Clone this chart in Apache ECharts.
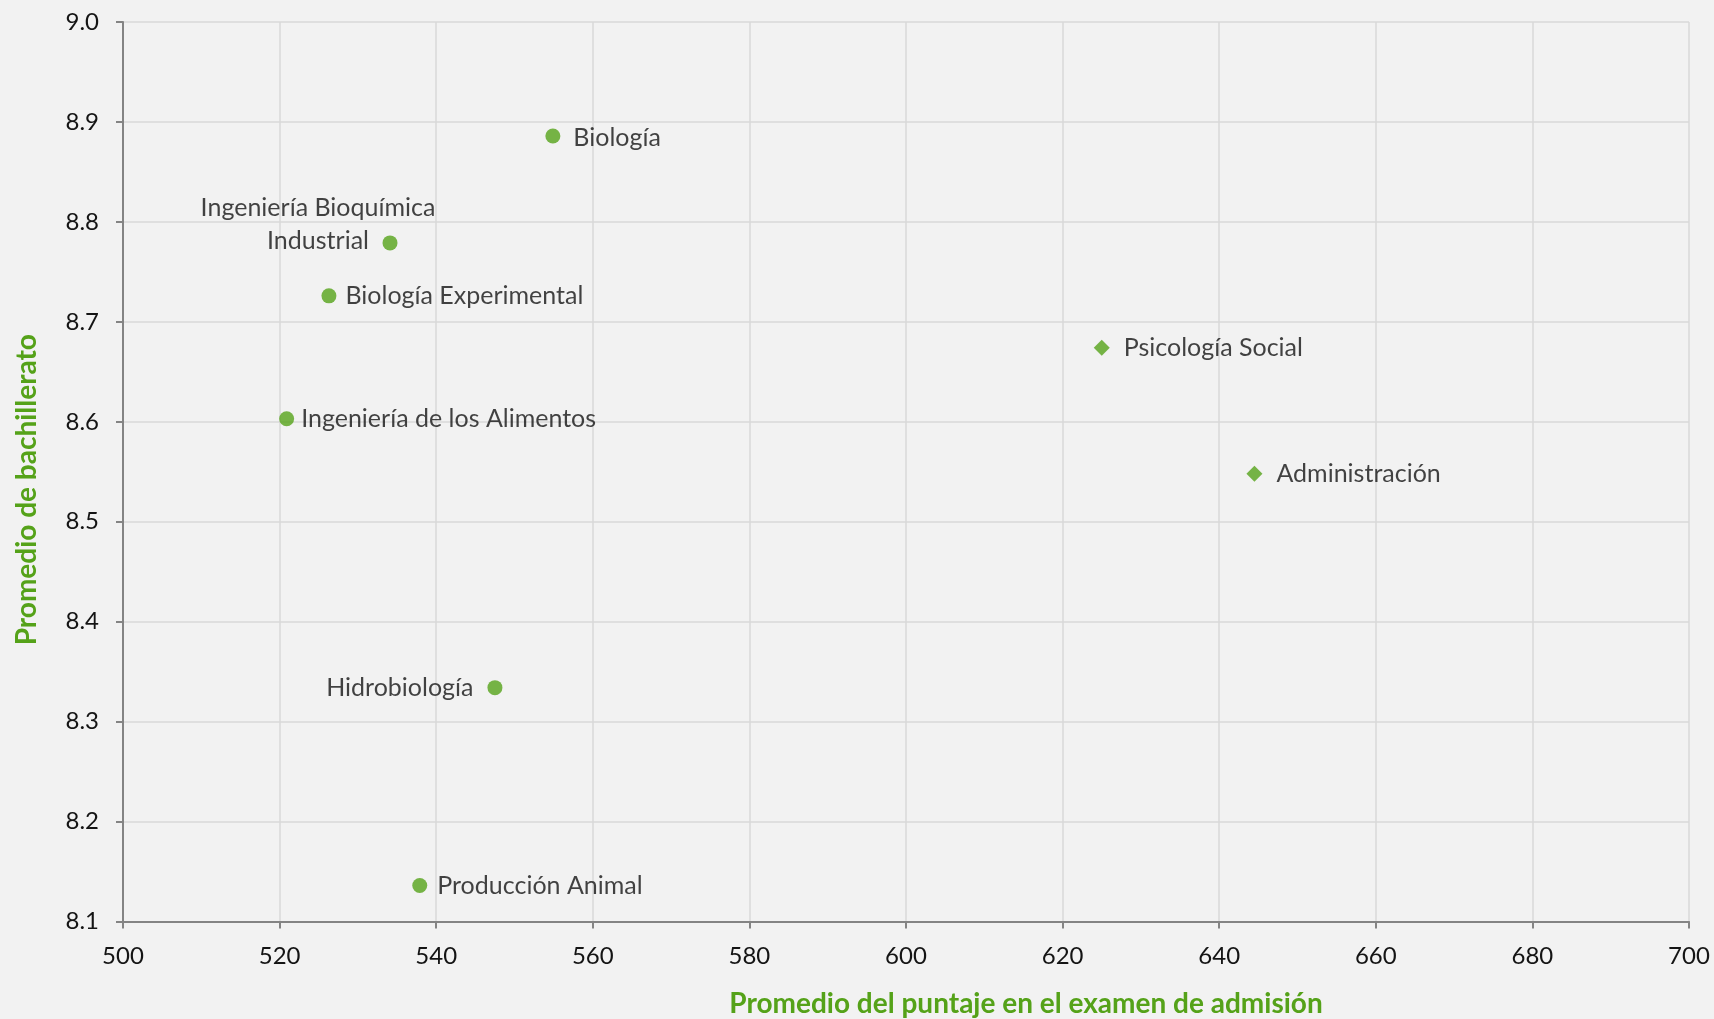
<!DOCTYPE html>
<html>
<head>
<meta charset="utf-8">
<script src="https://cdn.jsdelivr.net/npm/echarts@6/dist/echarts.min.js"></script>
<style>
html,body{margin:0;padding:0;background:#f2f2f2;}
#chart{width:1714px;height:1019px;}
</style>
</head>
<body>
<div id="chart"></div>
<script>
// ---- data ----
const circleNames = ['Biología', 'Ingeniería Bioquímica\nIndustrial', 'Biología Experimental', 'Ingeniería de los Alimentos', 'Hidrobiología', 'Producción Animal'];
const circleX = [554.9, 534.1, 526.3, 520.9, 547.5, 537.9];
const circleY = [8.886, 8.779, 8.726, 8.603, 8.334, 8.136];
const diamondNames = ['Psicología Social', 'Administración'];
const diamondX = [625.0, 644.5];
const diamondY = [8.674, 8.548];
const xAxisTitle = 'Promedio del puntaje en el examen de admisión';
const yAxisTitle = 'Promedio de bachillerato';

// ---- styling ----
const GREEN = '#55a219';
const FONT = 'Lato';
const labelStyle = {
  show: true, fontFamily: FONT, fontSize: 25, color: '#141414', formatter: p => p.name
};
// label placement per point (by name)
const placement = {
  'Biología': { position: 'right', distance: 13, offset: [0, 2] },
  'Ingeniería Bioquímica\nIndustrial': { position: 'inside', offset: [-72, -18], align: 'center', verticalAlign: 'middle', lineHeight: 33 },
  'Biología Experimental': { position: 'right', distance: 9 },
  'Ingeniería de los Alimentos': { position: 'right', distance: 7 },
  'Hidrobiología': { position: 'left', distance: 14 },
  'Producción Animal': { position: 'right', distance: 10 },
  'Psicología Social': { position: 'right', distance: 14 },
  'Administración': { position: 'right', distance: 14 }
};
function build(names, xs, ys) {
  return names.map((n, i) => ({
    name: n,
    value: [xs[i], ys[i]],
    label: Object.assign({}, labelStyle, placement[n] || { position: 'right' })
  }));
}

const chart = echarts.init(document.getElementById('chart'));
chart.setOption({
  backgroundColor: '#f2f2f2',
  animation: false,
  grid: { left: 123, right: 25, top: 22, bottom: 97.5, containLabel: false, outerBoundsMode: 'none' },
  xAxis: {
    type: 'value', min: 500, max: 700, interval: 20,
    name: xAxisTitle, nameLocation: 'middle', nameGap: 68,
    nameTextStyle: { fontFamily: FONT, fontSize: 28, fontWeight: 'bold', color: GREEN, padding: [0, 0, 0, 240] },
    axisLine: { show: true, lineStyle: { color: '#848484', width: 2 } },
    axisTick: { show: true, length: 7, lineStyle: { color: '#848484', width: 2 } },
    axisLabel: { fontFamily: FONT, fontSize: 24, color: '#141414', margin: 23 },
    splitLine: { show: true, lineStyle: { color: '#d9d9d9', width: 1.5 } }
  },
  yAxis: {
    type: 'value', min: 8.1, max: 9.0, interval: 0.1,
    name: yAxisTitle, nameLocation: 'middle', nameGap: 82,
    nameTextStyle: { fontFamily: FONT, fontSize: 28, fontWeight: 'bold', color: GREEN, padding: [0, 36, 0, 0] },
    axisLine: { show: true, lineStyle: { color: '#848484', width: 2 } },
    axisTick: { show: true, length: 7, lineStyle: { color: '#848484', width: 2 } },
    axisLabel: { fontFamily: FONT, fontSize: 24, color: '#141414', margin: 24, formatter: v => v.toFixed(1) },
    splitLine: { show: true, lineStyle: { color: '#d9d9d9', width: 1.5 } }
  },
  series: [
    {
      type: 'scatter', symbol: 'circle', symbolSize: 15,
      itemStyle: { color: GREEN },
      data: build(circleNames, circleX, circleY)
    },
    {
      type: 'scatter', symbol: 'diamond', symbolSize: 16,
      itemStyle: { color: GREEN },
      data: build(diamondNames, diamondX, diamondY)
    }
  ]
});
</script>
</body>
</html>
